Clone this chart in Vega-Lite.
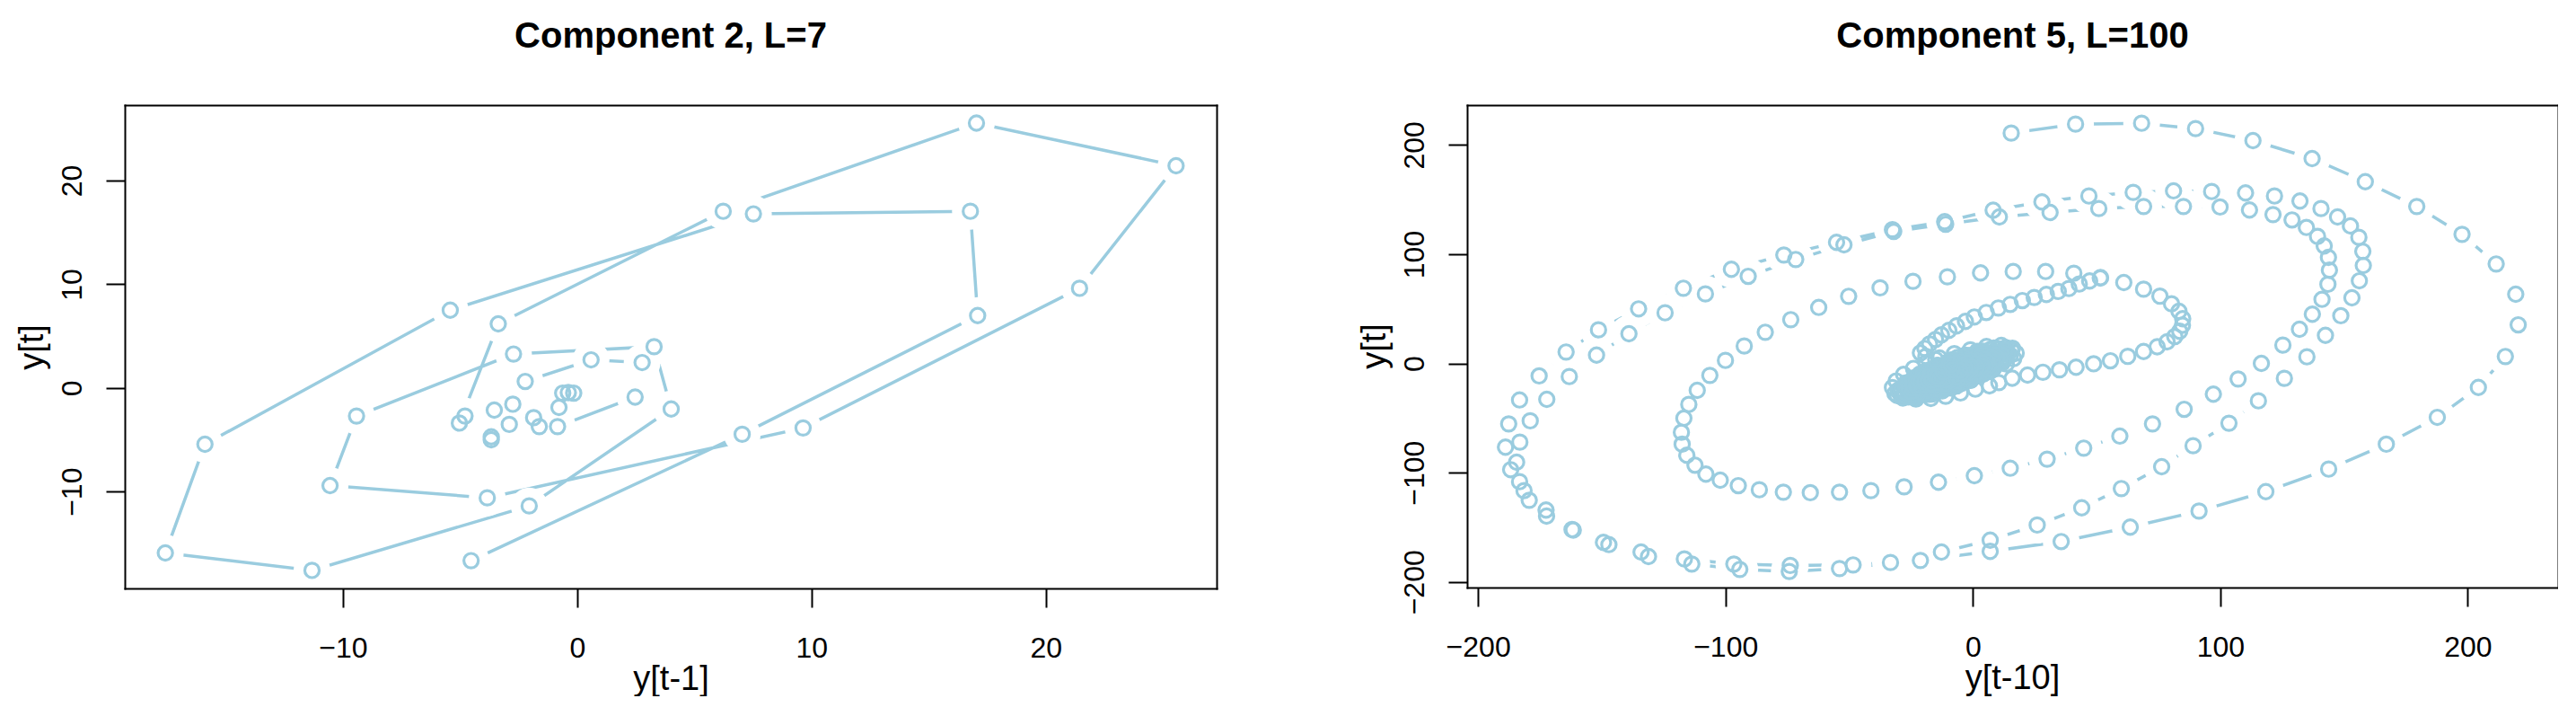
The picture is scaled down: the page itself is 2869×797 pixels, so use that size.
{
  "$schema": "https://vega.github.io/schema/vega-lite/v6.json",
  "background": "white",
  "padding": {"left": 17, "top": 21, "right": 0, "bottom": 0},
  "spacing": 157,
  "config": {
    "font": "Liberation Sans",
    "view": {"stroke": null},
    "axis": {
      "grid": false, "domain": true, "domainColor": "black", "domainWidth": 2, "domainCap": "square",
      "tickSize": 21, "tickWidth": 2, "tickColor": "black",
      "labelFont": "Liberation Sans", "labelFontSize": 32, "labelColor": "black",
      "labelOverlap": false, "labelFlush": false,
      "titleFont": "Liberation Sans", "titleFontSize": 38, "titleFontWeight": "normal", "titleColor": "black"
    },
    "axisX": {"labelBaseline": "alphabetic", "labelPadding": 55, "titleBaseline": "alphabetic", "titleAlign": "center"},
    "axisY": {"labelAngle": 270, "labelAlign": "center", "labelBaseline": "alphabetic", "labelPadding": 28, "titleAngle": 270, "titleAlign": "center", "titleBaseline": "alphabetic"},
    "title": {"font": "Liberation Sans", "fontSize": 40, "fontWeight": "bold", "color": "black", "anchor": "middle", "baseline": "alphabetic"}
  },
  "datasets": {
    "left": [
      {"i":1,"x":-0.15,"y":-0.5},{"i":2,"x":-0.38,"y":-0.45},{"i":3,"x":-0.62,"y":-0.5},{"i":4,"x":-0.78,"y":-1.88},
      {"i":5,"x":-1.86,"y":-2.87},{"i":6,"x":-2.75,"y":-1.57},{"i":7,"x":-1.62,"y":-3.73},{"i":8,"x":-3.67,"y":-4.72},
      {"i":9,"x":-4.79,"y":-2.71},{"i":10,"x":-2.9,"y":-3.52},{"i":11,"x":-3.54,"y":-2.14},{"i":12,"x":-2.22,"y":0.63},
      {"i":13,"x":0.59,"y":2.71},{"i":14,"x":2.77,"y":2.45},{"i":15,"x":2.47,"y":-0.88},{"i":16,"x":-0.84,"y":-3.73},
      {"i":17,"x":-3.67,"y":-5.0},{"i":18,"x":-5.03,"y":-3.39},{"i":19,"x":-3.37,"y":6.18},{"i":20,"x":6.23,"y":17.04},
      {"i":21,"x":17.04,"y":25.55},{"i":22,"x":25.56,"y":21.43},{"i":23,"x":21.44,"y":9.61},{"i":24,"x":9.64,"y":-3.86},
      {"i":25,"x":-3.84,"y":-10.6},{"i":26,"x":-10.55,"y":-9.42},{"i":27,"x":-9.42,"y":-2.71},{"i":28,"x":-2.72,"y":3.27},
      {"i":29,"x":3.28,"y":3.98},{"i":30,"x":4.01,"y":-2.03},{"i":31,"x":-2.05,"y":-11.38},{"i":32,"x":-11.32,"y":-17.6},
      {"i":33,"x":-17.58,"y":-15.92},{"i":34,"x":-15.89,"y":-5.43},{"i":35,"x":-5.42,"y":7.5},{"i":36,"x":7.52,"y":16.79},
      {"i":37,"x":16.78,"y":17.04},{"i":38,"x":17.09,"y":6.98},{"i":39,"x":7.04,"y":-4.47},{"i":40,"x":-4.53,"y":-16.66}
    ],
    "right": [
      {"i":1,"x":15.5,"y":210.9},{"i":2,"x":41.5,"y":219.1},{"i":3,"x":68.2,"y":219.9},{"i":4,"x":90,"y":215},
      {"i":5,"x":113.2,"y":204},{"i":6,"x":137.1,"y":187.6},{"i":7,"x":158.6,"y":166.4},{"i":8,"x":179.4,"y":143.7},
      {"i":9,"x":197.7,"y":118.2},{"i":10,"x":211.5,"y":91.1},{"i":11,"x":219.4,"y":63.4},{"i":12,"x":220.4,"y":35.4},
      {"i":13,"x":215.2,"y":6.4},{"i":14,"x":204.3,"y":-21.9},{"i":15,"x":187.7,"y":-49.3},{"i":16,"x":167.1,"y":-73.9},
      {"i":17,"x":143.8,"y":-96.7},{"i":18,"x":118.4,"y":-117.3},{"i":19,"x":91.4,"y":-135.1},{"i":20,"x":63.6,"y":-149.8},
      {"i":21,"x":35.7,"y":-163},{"i":22,"x":7,"y":-172},
      {"i":23,"x":-21.2,"y":-180.3},{"i":24,"x":-53.9,"y":-187.7},{"i":25,"x":-74.2,"y":-190.4},{"i":26,"x":-94.2,"y":-188.5},
      {"i":27,"x":-113.6,"y":-183.6},{"i":28,"x":-131.1,"y":-176.7},{"i":29,"x":-147.1,"y":-165.8},{"i":30,"x":-162,"y":-152},
      {"i":31,"x":-172.3,"y":-139.7},{"i":32,"x":-179.3,"y":-125.2},{"i":33,"x":-183.2,"y":-108.2},{"i":34,"x":-186.8,"y":-97.2},
      {"i":35,"x":-188.9,"y":-76.6},{"i":36,"x":-187.6,"y":-55.3},{"i":37,"x":-183.2,"y":-33.4},{"i":38,"x":-175.3,"y":-11.4},
      {"i":39,"x":-164.4,"y":10.5},{"i":40,"x":-151.3,"y":30.8},{"i":41,"x":-135.1,"y":50},{"i":42,"x":-117,"y":68.9},
      {"i":43,"x":-97.6,"y":86.2},{"i":44,"x":-76.4,"y":99.3},{"i":45,"x":-55.1,"y":110.9},{"i":46,"x":-32.5,"y":122.5},
      {"i":47,"x":-11.4,"y":129.8},{"i":48,"x":8.2,"y":140.3},{"i":49,"x":27.9,"y":147.9},{"i":50,"x":46.9,"y":153.3},
      {"i":51,"x":64.8,"y":156.6},{"i":52,"x":81.1,"y":158},{"i":53,"x":96.5,"y":157.4},{"i":54,"x":110.2,"y":156.1},
      {"i":55,"x":121.9,"y":153.3},{"i":56,"x":132.2,"y":148.7},{"i":57,"x":140.7,"y":141.8},{"i":58,"x":147.4,"y":134.1},
      {"i":59,"x":152.6,"y":125.9},{"i":60,"x":156,"y":115.5},{"i":61,"x":157.6,"y":102.6},{"i":62,"x":157.8,"y":89.7},
      {"i":63,"x":156.2,"y":75.7},{"i":64,"x":153.2,"y":60.1},{"i":65,"x":148.7,"y":43.7},{"i":66,"x":142.5,"y":25.8},
      {"i":67,"x":135,"y":6.1},{"i":68,"x":125.9,"y":-13.6},{"i":69,"x":115.4,"y":-34.2},{"i":70,"x":103.5,"y":-54.7},
      {"i":71,"x":89,"y":-75.3},{"i":72,"x":76.3,"y":-94.5},{"i":73,"x":60,"y":-114.5},{"i":74,"x":44,"y":-132.1},
      {"i":75,"x":26,"y":-147.9},{"i":76,"x":7,"y":-161.7},
      {"i":77,"x":-12.7,"y":-172.6},{"i":78,"x":-33.3,"y":-182.2},{"i":79,"x":-48.4,"y":-184.4},{"i":80,"x":-73.8,"y":-184.9},
      {"i":81,"x":-96.6,"y":-183.6},{"i":82,"x":-116.6,"y":-178.9},{"i":83,"x":-134.1,"y":-172.6},{"i":84,"x":-149.3,"y":-163.8},
      {"i":85,"x":-161.5,"y":-152.5},{"i":86,"x":-172.5,"y":-134.2},{"i":87,"x":-181.4,"y":-116.4},{"i":88,"x":-184.4,"y":-90.4},
      {"i":89,"x":-183.1,"y":-72},{"i":90,"x":-178.9,"y":-52.5},{"i":91,"x":-172.2,"y":-32.8},{"i":92,"x":-163.1,"y":-12},
      {"i":93,"x":-152.1,"y":7.7},{"i":94,"x":-139,"y":27.2},{"i":95,"x":-124.4,"y":46.4},{"i":96,"x":-108.1,"y":63.7},
      {"i":97,"x":-90.8,"y":79.8},{"i":98,"x":-71.6,"y":95.2},{"i":99,"x":-52.1,"y":108.6},{"i":100,"x":-32,"y":120.8},
      {"i":101,"x":-11,"y":127.5},{"i":102,"x":10.7,"y":134.1},{"i":103,"x":31.2,"y":138.2},{"i":104,"x":50.9,"y":141.8},
      {"i":105,"x":69,"y":143.7},{"i":106,"x":85.1,"y":143.7},{"i":107,"x":99.9,"y":143.2},{"i":108,"x":111.8,"y":140.5},
      {"i":109,"x":121.3,"y":136.3},{"i":110,"x":129,"y":131.4},{"i":111,"x":134.8,"y":124.5},{"i":112,"x":139.3,"y":116.3},
      {"i":113,"x":142,"y":107.6},{"i":114,"x":143.7,"y":97.1},{"i":115,"x":144.1,"y":85.4},{"i":116,"x":143.5,"y":72.5},
      {"i":117,"x":141.1,"y":58.7},{"i":118,"x":137.2,"y":45.1},{"i":119,"x":132,"y":31.3},{"i":120,"x":125.3,"y":16.8},
      {"i":121,"x":116.6,"y":0.1},{"i":122,"x":107.2,"y":-14.2},{"i":123,"x":97.2,"y":-28.1},{"i":124,"x":85.4,"y":-41.9},
      {"i":125,"x":72.6,"y":-55.3},{"i":126,"x":59.4,"y":-66.5},{"i":127,"x":44.8,"y":-77.5},{"i":128,"x":30,"y":-87.6},
      {"i":129,"x":15.1,"y":-95.9},{"i":130,"x":0.6,"y":-102.7},{"i":131,"x":-13.9,"y":-108.7},{"i":132,"x":-27.8,"y":-112.9},
      {"i":133,"x":-41.2,"y":-116.4},{"i":134,"x":-53.9,"y":-117.8},{"i":135,"x":-65.7,"y":-118.3},{"i":136,"x":-76.6,"y":-117.8},
      {"i":137,"x":-86.3,"y":-115.6},{"i":138,"x":-94.8,"y":-111.8},{"i":139,"x":-102.1,"y":-106.8},{"i":140,"x":-107.9,"y":-101.3},
      {"i":141,"x":-112.3,"y":-93.1},{"i":142,"x":-115.6,"y":-84},{"i":143,"x":-117.5,"y":-73.9},{"i":144,"x":-117.8,"y":-63},
      {"i":145,"x":-116.8,"y":-50.1},{"i":146,"x":-114.8,"y":-37.5},{"i":147,"x":-111.4,"y":-24.6},{"i":148,"x":-106.3,"y":-10.9},
      {"i":149,"x":-100,"y":2.8},{"i":150,"x":-92.4,"y":16},{"i":151,"x":-83.9,"y":28.6},{"i":152,"x":-73.6,"y":40.1},
      {"i":153,"x":-62.3,"y":51.3},{"i":154,"x":-50.2,"y":61.5},{"i":155,"x":-37.5,"y":69.2},{"i":156,"x":-24.2,"y":75.2},
      {"i":157,"x":-10.3,"y":79.3},{"i":158,"x":3.1,"y":82.9},{"i":159,"x":16.3,"y":84.2},{"i":160,"x":29.4,"y":84.2},
      {"i":161,"x":40.8,"y":82.6},{"i":162,"x":51.6,"y":78.6},{"i":163,"x":61,"y":74.1},{"i":164,"x":69,"y":68},
      {"i":165,"x":75.6,"y":61.6},{"i":166,"x":80.3,"y":54.6},{"i":167,"x":83.3,"y":47.8},{"i":168,"x":84.8,"y":41},
      {"i":169,"x":84.7,"y":35},{"i":170,"x":83.6,"y":29.5},{"i":171,"x":81.6,"y":24.6},{"i":172,"x":78.5,"y":19.8},
      {"i":173,"x":74.5,"y":15.3},{"i":174,"x":69,"y":11},{"i":175,"x":62.6,"y":6.5},{"i":176,"x":55.6,"y":2.5},
      {"i":177,"x":48.8,"y":-0.3},{"i":178,"x":41.7,"y":-3.4},{"i":179,"x":35,"y":-5.8},{"i":180,"x":28.3,"y":-8},
      {"i":181,"x":22.1,"y":-10.6},{"i":182,"x":15.9,"y":-13.5},
      {"i":183,"x":10.5,"y":-17.5},{"i":184,"x":6.7,"y":-20.5},{"i":185,"x":1,"y":-23.5},{"i":186,"x":-5,"y":-27},
      {"i":187,"x":-11,"y":-30},{"i":188,"x":-17,"y":-32},{"i":189,"x":-23,"y":-32.5},{"i":190,"x":-28,"y":-31},
      {"i":191,"x":-31.5,"y":-27.5},{"i":192,"x":-32.5,"y":-22},{"i":193,"x":-31,"y":-16},{"i":194,"x":-28,"y":-10},
      {"i":195,"x":-24,"y":-4.5},{"i":196,"x":-19,"y":0.5},{"i":197,"x":-13.5,"y":5},{"i":198,"x":-7.5,"y":9},
      {"i":199,"x":-1,"y":12.5},{"i":200,"x":5.5,"y":15.5},{"i":201,"x":11.5,"y":16.5},{"i":202,"x":16,"y":14},
      {"i":203,"x":17.5,"y":9.5},{"i":204,"x":16.5,"y":4.5},{"i":205,"x":13.5,"y":-0.5},
      {"i":205.01,"x":8.55,"y":-4.1},{"i":205.02,"x":4.2,"y":-9.8},{"i":205.03,"x":-1.0,"y":-15.4},{"i":205.04,"x":-6.6,"y":-20.6},
      {"i":205.05,"x":-12.3,"y":-25.0},{"i":205.06,"x":-17.7,"y":-28.2},{"i":205.07,"x":-22.4,"y":-30.1},{"i":205.08,"x":-26.1,"y":-30.6},
      {"i":205.09,"x":-28.6,"y":-29.6},{"i":205.1,"x":-29.6,"y":-27.1},{"i":205.11,"x":-29.1,"y":-23.4},{"i":205.12,"x":-27.2,"y":-18.7},
      {"i":205.13,"x":-23.95,"y":-13.3},{"i":205.14,"x":-19.6,"y":-7.6},{"i":205.15,"x":-14.4,"y":-2.0},{"i":205.16,"x":-8.8,"y":3.2},
      {"i":205.17,"x":-3.1,"y":7.55},{"i":205.18,"x":2.3,"y":10.8},{"i":205.19,"x":7.0,"y":12.7},{"i":205.2,"x":10.7,"y":13.2},
      {"i":205.21,"x":13.16,"y":12.16},{"i":205.22,"x":14.2,"y":9.7},{"i":205.23,"x":13.7,"y":6.0},{"i":205.24,"x":11.8,"y":1.3},
      {"i":206,"x":12.0,"y":0.7},{"i":207,"x":6.5,"y":-7.2},{"i":208,"x":-0.8,"y":-15.2},{"i":209,"x":-8.8,"y":-22.4},
      {"i":210,"x":-16.7,"y":-28.0},{"i":211,"x":-23.5,"y":-31.2},{"i":212,"x":-28.3,"y":-31.6},{"i":213,"x":-30.6,"y":-29.3},
      {"i":214,"x":-30.2,"y":-24.5},{"i":215,"x":-27.0,"y":-17.7},{"i":216,"x":-21.5,"y":-9.8},{"i":217,"x":-14.2,"y":-1.8},
      {"i":218,"x":-6.2,"y":5.5},{"i":219,"x":1.7,"y":11.0},{"i":220,"x":8.5,"y":14.2},{"i":221,"x":13.3,"y":14.6},
      {"i":222,"x":15.6,"y":12.3},{"i":223,"x":15.2,"y":7.5},
      {"i":224,"x":8.3,"y":-3.8},{"i":225,"x":2.3,"y":-11.2},{"i":226,"x":-4.8,"y":-18.3},{"i":227,"x":-12.2,"y":-24.3},
      {"i":228,"x":-19.1,"y":-28.3},{"i":229,"x":-24.6,"y":-30},{"i":230,"x":-28,"y":-29},{"i":231,"x":-29,"y":-25.6},
      {"i":232,"x":-27.3,"y":-20.1},{"i":233,"x":-23.3,"y":-13.2},{"i":234,"x":-17.3,"y":-5.8},{"i":235,"x":-10.2,"y":1.3},
      {"i":236,"x":-2.8,"y":7.3},{"i":237,"x":4.1,"y":11.3},{"i":238,"x":9.6,"y":13},{"i":239,"x":13,"y":12},
      {"i":240,"x":14,"y":8.6},{"i":241,"x":12.3,"y":3.1},
      {"i":242,"x":8.6,"y":-1.6},{"i":243,"x":4.0,"y":-8.2},{"i":244,"x":-2.0,"y":-15.0},{"i":245,"x":-8.8,"y":-21.0},
      {"i":246,"x":-15.4,"y":-25.6},{"i":247,"x":-21.2,"y":-28.2},{"i":248,"x":-25.4,"y":-28.5},{"i":249,"x":-27.5,"y":-26.4},
      {"i":250,"x":-27.2,"y":-22.2},{"i":251,"x":-24.6,"y":-16.4},{"i":252,"x":-20.0,"y":-9.8},{"i":253,"x":-14.0,"y":-3.0},
      {"i":254,"x":-7.2,"y":3.0},{"i":255,"x":-0.6,"y":7.6},{"i":256,"x":5.2,"y":10.2},{"i":257,"x":9.4,"y":10.5},
      {"i":258,"x":11.5,"y":8.4},{"i":259,"x":11.2,"y":4.2},
      {"i":260,"x":5.4,"y":-5.4},{"i":261,"x":0.5,"y":-11.6},{"i":262,"x":-5.4,"y":-17.5},{"i":263,"x":-11.6,"y":-22.4},
      {"i":264,"x":-17.4,"y":-25.6},{"i":265,"x":-22.1,"y":-26.9},{"i":266,"x":-25,"y":-26},{"i":267,"x":-25.9,"y":-23.1},
      {"i":268,"x":-24.6,"y":-18.4},{"i":269,"x":-21.4,"y":-12.6},{"i":270,"x":-16.5,"y":-6.4},{"i":271,"x":-10.6,"y":-0.5},
      {"i":272,"x":-4.4,"y":4.4},{"i":273,"x":1.4,"y":7.6},{"i":274,"x":6.1,"y":8.9},{"i":275,"x":9,"y":8},
      {"i":276,"x":9.9,"y":5.1},{"i":277,"x":8.6,"y":0.4},
      {"i":278,"x":5.6,"y":-3.5},{"i":279,"x":2.0,"y":-9.0},{"i":280,"x":-2.9,"y":-14.5},{"i":281,"x":-8.4,"y":-19.4},
      {"i":282,"x":-13.9,"y":-23.0},{"i":283,"x":-18.7,"y":-25.0},{"i":284,"x":-22.3,"y":-25.1},{"i":285,"x":-24.1,"y":-23.3},
      {"i":286,"x":-24.0,"y":-19.7},{"i":287,"x":-22.0,"y":-14.9},{"i":288,"x":-18.4,"y":-9.4},{"i":289,"x":-13.5,"y":-3.9},
      {"i":290,"x":-8.0,"y":1.0},{"i":291,"x":-2.5,"y":4.6},{"i":292,"x":2.3,"y":6.6},{"i":293,"x":5.9,"y":6.7},
      {"i":294,"x":7.7,"y":4.9},{"i":295,"x":7.6,"y":1.3},
      {"i":295.01,"x":4.2,"y":-6.0},{"i":295.02,"x":0.95,"y":-10.3},{"i":295.03,"x":-2.9,"y":-14.5},{"i":295.04,"x":-7.1,"y":-18.35},
      {"i":295.05,"x":-11.4,"y":-21.6},{"i":295.06,"x":-15.4,"y":-23.9},{"i":295.07,"x":-19.0,"y":-25.3},{"i":295.08,"x":-21.85,"y":-25.6},
      {"i":295.09,"x":-23.75,"y":-24.75},{"i":295.1,"x":-24.6,"y":-22.85},{"i":295.11,"x":-24.3,"y":-20.0},{"i":295.12,"x":-22.9,"y":-16.4},
      {"i":295.13,"x":-20.6,"y":-12.4},{"i":295.14,"x":-17.35,"y":-8.1},{"i":295.15,"x":-13.5,"y":-3.9},{"i":295.16,"x":-9.3,"y":-0.05},
      {"i":295.17,"x":-5.0,"y":3.2},{"i":295.18,"x":-1.0,"y":5.5},{"i":295.19,"x":2.6,"y":6.9},{"i":295.2,"x":5.45,"y":7.2},
      {"i":295.21,"x":7.35,"y":6.35},{"i":295.22,"x":8.2,"y":4.45},{"i":295.23,"x":7.9,"y":1.6},{"i":295.24,"x":6.5,"y":-2.0},
      {"i":296,"x":2.5,"y":-7.1},{"i":297,"x":-1.3,"y":-12.1},{"i":298,"x":-6,"y":-16.7},{"i":299,"x":-10.9,"y":-20.5},
      {"i":300,"x":-15.6,"y":-23},{"i":301,"x":-19.4,"y":-23.8},{"i":302,"x":-21.9,"y":-22.9},{"i":303,"x":-22.8,"y":-20.4},
      {"i":304,"x":-22,"y":-16.6},{"i":305,"x":-19.5,"y":-11.9},{"i":306,"x":-15.7,"y":-7},{"i":307,"x":-11.1,"y":-2.3},
      {"i":308,"x":-6.1,"y":1.5},{"i":309,"x":-1.4,"y":4},{"i":310,"x":2.4,"y":4.8},{"i":311,"x":4.9,"y":3.9},
      {"i":312,"x":5.8,"y":1.4},{"i":313,"x":5,"y":-2.4},
      {"i":314,"x":2.3,"y":-5.7},{"i":315,"x":-0.4,"y":-10.0},{"i":316,"x":-4.1,"y":-14.3},{"i":317,"x":-8.4,"y":-18.0},
      {"i":318,"x":-12.7,"y":-20.7},{"i":319,"x":-16.5,"y":-22.1},{"i":320,"x":-19.4,"y":-22.0},{"i":321,"x":-21.0,"y":-20.4},
      {"i":322,"x":-21.1,"y":-17.5},{"i":323,"x":-19.7,"y":-13.7},{"i":324,"x":-17.0,"y":-9.4},{"i":325,"x":-13.3,"y":-5.1},
      {"i":326,"x":-9.0,"y":-1.4},{"i":327,"x":-4.7,"y":1.3},{"i":328,"x":-0.9,"y":2.7},{"i":329,"x":2.0,"y":2.6},
      {"i":330,"x":3.6,"y":1.0},{"i":331,"x":3.7,"y":-1.9},
      {"i":332,"x":-0.4,"y":-8.7},{"i":333,"x":-3.1,"y":-12.5},{"i":334,"x":-6.5,"y":-15.9},{"i":335,"x":-10.3,"y":-18.6},
      {"i":336,"x":-13.9,"y":-20.3},{"i":337,"x":-16.9,"y":-20.75},{"i":338,"x":-18.9,"y":-19.9},{"i":339,"x":-19.75,"y":-17.85},
      {"i":340,"x":-19.3,"y":-14.9},{"i":341,"x":-17.6,"y":-11.3},{"i":342,"x":-14.9,"y":-7.5},{"i":343,"x":-11.5,"y":-4.1},
      {"i":344,"x":-7.7,"y":-1.4},{"i":345,"x":-4.1,"y":0.3},{"i":346,"x":-1.2,"y":0.75},{"i":347,"x":0.9,"y":-0.1},
      {"i":348,"x":1.75,"y":-2.15},{"i":349,"x":1.3,"y":-5.1},
      {"i":349.01,"x":-0.7,"y":-8.4},{"i":349.02,"x":-5.1,"y":-13.9},{"i":349.03,"x":-10.6,"y":-18.3},{"i":349.04,"x":-15.6,"y":-20.5},
      {"i":349.05,"x":-18.9,"y":-19.9},{"i":349.06,"x":-19.5,"y":-16.6},{"i":349.07,"x":-17.3,"y":-11.6},{"i":349.08,"x":-12.9,"y":-6.1},
      {"i":349.09,"x":-7.4,"y":-1.7},{"i":349.1,"x":-2.4,"y":0.5},{"i":349.11,"x":0.9,"y":-0.1},{"i":349.12,"x":1.5,"y":-3.4},
      {"i":350,"x":-1.2,"y":-7.8},{"i":351,"x":-5.5,"y":-13.9},{"i":352,"x":-11.6,"y":-18.3},{"i":353,"x":-16.6,"y":-18.9},
      {"i":354,"x":-18.1,"y":-15.4},{"i":355,"x":-15.4,"y":-9.5},{"i":356,"x":-9.9,"y":-4.0},{"i":357,"x":-4.0,"y":-1.3},
      {"i":358,"x":-0.6,"y":-2.8},
      {"i":359,"x":-2.6,"y":-7.7},{"i":360,"x":-5.3,"y":-12.5},{"i":361,"x":-9.9,"y":-16.4},{"i":362,"x":-14.4,"y":-17.6},
      {"i":363,"x":-16.6,"y":-15.4},{"i":364,"x":-15.4,"y":-10.9},{"i":365,"x":-11.5,"y":-6.3},{"i":366,"x":-6.7,"y":-3.6},
      {"i":367,"x":-3.1,"y":-4.1},
      {"i":368,"x":-4.75,"y":-9.25},{"i":369,"x":-7.0,"y":-13.0},{"i":370,"x":-10.75,"y":-15.25},{"i":371,"x":-13.7,"y":-14.7},
      {"i":372,"x":-14.25,"y":-11.75},{"i":373,"x":-12.0,"y":-8.0},{"i":374,"x":-8.25,"y":-5.75},{"i":375,"x":-5.3,"y":-6.3},
      {"i":376,"x":-9,"y":-1},{"i":377,"x":-15,"y":3.5},{"i":378,"x":-19,"y":6.5},
      {"i":379,"x":-21.2,"y":9.7},{"i":380,"x":-19.4,"y":13.8},{"i":381,"x":-17.5,"y":17.9},{"i":382,"x":-15.1,"y":22},
      {"i":383,"x":-12.7,"y":26.2},{"i":384,"x":-9.7,"y":30.3},{"i":385,"x":-6.6,"y":34.4},{"i":386,"x":-3,"y":38.5},
      {"i":387,"x":0.6,"y":42.6},{"i":388,"x":5.4,"y":46.7},{"i":389,"x":10.3,"y":50.8},{"i":390,"x":15.1,"y":54.1},
      {"i":391,"x":20,"y":57.6},{"i":392,"x":24.8,"y":60.4},{"i":393,"x":29.7,"y":63.2},{"i":394,"x":34.5,"y":65.9},
      {"i":395,"x":38.8,"y":68.6},{"i":396,"x":43,"y":72.7},{"i":397,"x":47.2,"y":75.5},{"i":398,"x":51.5,"y":78.2}
    ]
  },
  "hconcat": [
    {
      "width": 1216, "height": 538,
      "data": {"name": "left"},
      "title": {"text": "Component 2, L=7", "offset": 56},
      "layer": [
        {"mark": {"type": "line", "color": "#9ACCDF", "strokeWidth": 3.5},
         "encoding": {
           "x": {"field": "x", "type": "quantitative", "scale": {"domain": [-19.31, 27.29], "nice": false, "zero": false},
                 "axis": {"values": [-10, 0, 10, 20], "title": "y[t-1]", "titleX": 608, "titleY": 112, "zindex": 2}},
           "y": {"field": "y", "type": "quantitative", "scale": {"domain": [-19.34, 27.28], "nice": false, "zero": false},
                 "axis": {"values": [-10, 0, 10, 20], "title": "y[t]", "titleX": -92, "titleY": 269, "zindex": 2}},
           "order": {"field": "i", "type": "quantitative"}}},
        {"mark": {"type": "point", "shape": "circle", "filled": true, "color": "white", "opacity": 1, "size": 1681, "clip": true},
         "encoding": {"x": {"field": "x", "type": "quantitative", "axis": null}, "y": {"field": "y", "type": "quantitative", "axis": null}}},
        {"mark": {"type": "point", "shape": "circle", "filled": false, "color": "#9ACCDF", "opacity": 1, "strokeWidth": 3.2, "size": 260},
         "encoding": {
           "x": {"field": "x", "type": "quantitative", "axis": {"orient": "top", "labels": false, "ticks": false, "title": null, "minExtent": 0, "maxExtent": 0, "zindex": 2}},
           "y": {"field": "y", "type": "quantitative", "axis": {"orient": "right", "labels": false, "ticks": false, "title": null, "minExtent": 0, "maxExtent": 0, "zindex": 2}}}}
      ],
      "resolve": {"axis": {"x": "independent", "y": "independent"}}
    },
    {
      "width": 1215, "height": 537,
      "data": {"name": "right"},
      "title": {"text": "Component 5, L=100", "offset": 56},
      "layer": [
        {"mark": {"type": "line", "color": "#9ACCDF", "strokeWidth": 3.5},
         "encoding": {
           "x": {"field": "x", "type": "quantitative", "scale": {"domain": [-204.4, 236.5], "nice": false, "zero": false},
                 "axis": {"values": [-200, -100, 0, 100, 200], "title": "y[t-10]", "titleX": 607, "titleY": 112, "zindex": 2}},
           "y": {"field": "y", "type": "quantitative", "scale": {"domain": [-205.1, 236.5], "nice": false, "zero": false},
                 "axis": {"values": [-200, -100, 0, 100, 200], "title": "y[t]", "titleX": -92, "titleY": 268, "zindex": 2}},
           "order": {"field": "i", "type": "quantitative"}}},
        {"mark": {"type": "point", "shape": "circle", "filled": true, "color": "white", "opacity": 1, "size": 1681, "clip": true},
         "encoding": {"x": {"field": "x", "type": "quantitative", "axis": null}, "y": {"field": "y", "type": "quantitative", "axis": null}}},
        {"mark": {"type": "point", "shape": "circle", "filled": false, "color": "#9ACCDF", "opacity": 1, "strokeWidth": 3.2, "size": 260},
         "encoding": {
           "x": {"field": "x", "type": "quantitative", "axis": {"orient": "top", "labels": false, "ticks": false, "title": null, "minExtent": 0, "maxExtent": 0, "zindex": 2}},
           "y": {"field": "y", "type": "quantitative", "axis": {"orient": "right", "labels": false, "ticks": false, "title": null, "minExtent": 0, "maxExtent": 0, "zindex": 2}}}}
      ],
      "resolve": {"axis": {"x": "independent", "y": "independent"}}
    }
  ]
}
